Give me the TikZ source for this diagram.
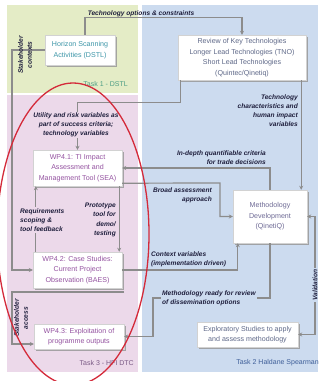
\documentclass[tikz,border=0pt]{standalone}
\usepackage{fontspec}
\setmainfont{Liberation Sans}
\usetikzlibrary{arrows.meta,shadows,calc}
\definecolor{greenbg}{HTML}{E4ECC6}
\definecolor{pinkbg}{HTML}{ECD9EA}
\definecolor{bluebg}{HTML}{CCDBEF}
\definecolor{linegray}{HTML}{8C8C8C}
\definecolor{labelc}{HTML}{1E1E3C}
\definecolor{horc}{HTML}{3D96A8}
\definecolor{revc}{HTML}{5E6888}
\definecolor{wpc}{HTML}{9452A0}
\definecolor{metc}{HTML}{6E6A95}
\definecolor{tonec}{HTML}{4E9E86}
\definecolor{tthreec}{HTML}{7B5B86}
\definecolor{ttwoc}{HTML}{3F5F99}
\definecolor{ellc}{HTML}{D42A3A}
\begin{document}
\begin{tikzpicture}[x=1pt,y=-1pt,
  box/.style={draw=gray!35, fill=white, drop shadow={shadow xshift=1.8pt, shadow yshift=-1.8pt, fill=gray!80, opacity=0.85}, inner sep=1pt, align=center, font=\fontsize{7.1}{10.5}\selectfont},
  lbl/.style={font=\fontsize{6.6}{9.2}\selectfont\bfseries\itshape, text=labelc, inner sep=1pt},
  tasklbl/.style={font=\fontsize{7}{8}\selectfont, inner sep=0pt},
  conn/.style={draw=linegray, line width=1.2pt},
  arr/.style={conn, -{Stealth[length=4pt,width=4pt]}},
]
\useasboundingbox (0,0) rectangle (320,381);
\fill[white] (0,0) rectangle (320,381);
% regions
\fill[greenbg] (7,5) rectangle (138,93);
\fill[pinkbg] (7,95) rectangle (138,372);
\fill[bluebg] (142,5) rectangle (318,372);
% task labels
\node[tasklbl, anchor=east, text=tonec] (t1) at (128,84) {Task 1 - DSTL};
\node[tasklbl, anchor=east, text=tthreec] (t3) at (134,363) {Task 3 - HFI DTC};
\node[tasklbl, anchor=east, text=ttwoc] (t2) at (319,363) {Task 2 Haldane Spearman};
% boxes
\node[box, text=horc, minimum width=70pt, minimum height=30pt] (hor) at (80,50) {Horizon Scanning\\Activities (DSTL)};
\node[box, text=revc, minimum width=128pt, minimum height=45pt] (rev) at (242,57.5) {Review of Key Technologies\\Longer Lead Technologies (TNO)\\Short Lead Technologies\\(Quintec/Qinetiq)};
\node[box, text=wpc, minimum width=89pt, minimum height=36pt] (wp41) at (77.5,168) {WP4.1: TI Impact\\Assessment and\\Management Tool (SEA)};
\node[box, text=wpc, minimum width=89pt, minimum height=36pt] (wp42) at (77.5,270) {WP4.2: Case Studies:\\Current Project\\Observation (BAES)};
\node[box, text=wpc, minimum width=90pt, minimum height=25pt] (wp43) at (79,336.5) {WP4.3: Exploitation of\\programme outputs};
\node[box, text=metc, minimum width=74pt, minimum height=53pt] (met) at (270,216.5) {Methodology\\Development\\(QinetiQ)};
\node[box, text=revc, minimum width=101pt, minimum height=25pt] (exp) at (247.5,334.5) {Exploratory Studies to apply\\and assess methodology};
% connectors
\draw[arr] ([xshift=5pt]hor.north) -- ++(0,-17) -| (rev.north);
\draw[arr] (hor.west) -- (12,50) |- (wp42.west);
\draw[arr] ([xshift=3pt]rev.south west) -- ++(0,22) -| (wp41.north);
\draw[arr] ([xshift=-5pt]rev.south east) -- ([xshift=-6pt]met.north east);
\draw[arr] (met.north) |- (wp41.east);
\draw[arr] ([yshift=3pt]wp41.south east) -- (220,183) |- (met.west);
\draw[arr] ([xshift=3pt]wp42.north west) -- ([xshift=3pt]wp41.south west);
\draw[arr] ([xshift=-3pt]wp41.south east) -- ([xshift=-3pt]wp42.north east);
\draw[arr] (wp42.east) -| ([xshift=5pt]met.south west);
\draw[arr] (met.south) |- (153,298) |- (wp43.east);
\coordinate (acc) at (124,292);
\draw[arr] (acc) -- (12,292) |- ([yshift=-7.5pt]wp43.west);
\draw[conn, {Stealth[length=4pt,width=4pt]}-{Stealth[length=4pt,width=4pt]}] (met.east) -- (315,216.5) |- (exp.east);
% labels
\node[lbl, anchor=south] (l1) at (141,18.5) {Technology options \& constraints};
\node[lbl, rotate=90, align=center] (l2) at (25,55) {Stakeholder\\contexts};
\node[lbl, fill=pinkbg, align=center] (l3) at (76,125) {Utility and risk variables as\\part of success criteria;\\technology variables};
\node[lbl, align=right, anchor=east] (l4) at (299,110.5) {Technology\\characteristics and\\human impact\\variables};
\node[lbl, align=right, anchor=south east] (l5) at (267,166) {In-depth quantifiable criteria\\for trade decisions};
\node[lbl, align=right, anchor=east] (l6) at (213,195.5) {Broad assessment\\approach};
\node[lbl, align=left, fill=pinkbg, anchor=west] (l7) at (19,220) {Requirements\\scoping \&\\tool feedback};
\node[lbl, align=right, anchor=east] (l8) at (117,220) {Prototype\\tool for\\demo/\\testing};
\node[lbl, align=left, anchor=south west] (l9) at (150,268) {Context variables\\(implementation driven)};
\node[lbl, align=left, anchor=west, fill=bluebg] (l10) at (161,298) {Methodology ready for review\\of dissemination options};
\node[lbl, rotate=90, fill=bluebg] (l11) at (315,285) {Validation};
\node[lbl, rotate=90, align=center] (l12) at (21,318) {Stakeholder\\access};
% red ellipse
\draw[ellc, line width=1.3pt] (73,234) ellipse [x radius=76, y radius=151];
\end{tikzpicture}
\end{document}
